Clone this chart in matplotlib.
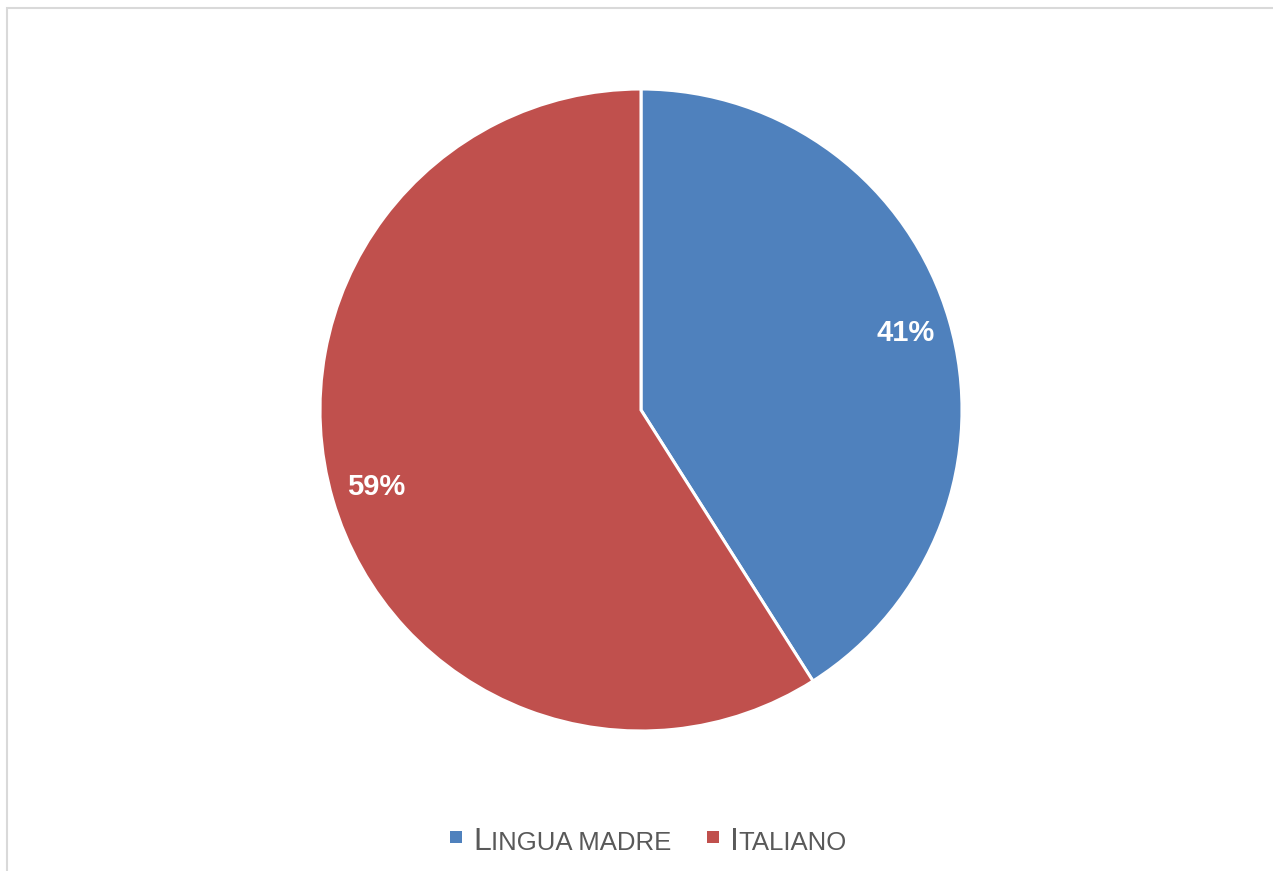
import matplotlib.pyplot as plt
from matplotlib.patches import Rectangle

# data
labels = ["Lingua madre", "Italiano"]
shares = [41, 59]
colors = ["#4F81BD", "#C0504D"]

W, H = 1273, 871
fig = plt.figure(figsize=(W / 100, H / 100), dpi=100)
plt.rcParams['font.family'] = ['Liberation Sans', 'DejaVu Sans']

# chart area frame (runs off the right/bottom edge)
fig.patches.append(Rectangle((7 / W, -0.1), 1.2, (H - 8) / H + 0.1, transform=fig.transFigure,
                             fill=False, edgecolor="#D9D9D9", linewidth=1.5))

cx, cy, r = 641, 410, 321
ax = fig.add_axes([(cx - r) / W, (H - cy - r) / H, 2 * r / W, 2 * r / H])
wedges, texts, autotexts = ax.pie(
    shares, colors=colors, startangle=90, counterclock=False, radius=1,
    autopct="%.0f%%", pctdistance=0.86,
    wedgeprops=dict(edgecolor="white", linewidth=2.2),
    textprops=dict(color="white", fontsize=21, fontweight="bold"))
ax.set_xlim(-1, 1)
ax.set_ylim(-1, 1)
ax.set_aspect("auto")
ax.axis("off")

# legend with small-caps labels, drawn piece by piece
fig.canvas.draw()
renderer = fig.canvas.get_renderer()
base_y = (H - 850) / H
starts = [450, 707]
for lab, col, x0 in zip(labels, colors, starts):
    fig.patches.append(Rectangle((x0 / W, (H - 843) / H), 12 / W, 12 / H,
                                 transform=fig.transFigure, facecolor=col, edgecolor="none"))
    t1 = fig.text((x0 + 23) / W, base_y, lab[0].upper(), fontsize=23, color="#595959", va="baseline")
    bb = t1.get_window_extent(renderer)
    fig.text(bb.x1 / W, base_y, lab[1:].upper(), fontsize=18.5, color="#595959", va="baseline")

fig.savefig("out.png", dpi=100)
